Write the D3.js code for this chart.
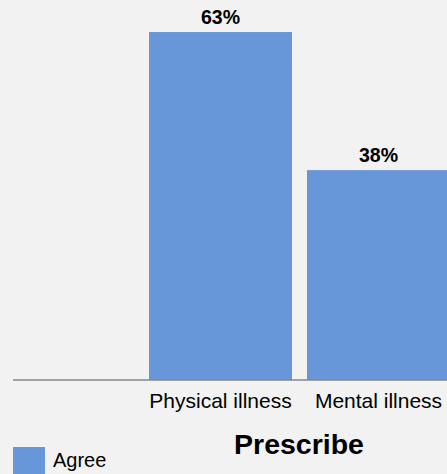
<!DOCTYPE html>
<html>
<head>
<meta charset="utf-8">
<script src="https://cdn.jsdelivr.net/npm/d3@7"></script>
<style>
  html, body { margin: 0; padding: 0; background: #f2f2f2; overflow: hidden; }
  svg { display: block; font-family: Arial, "Liberation Sans", sans-serif; }
</style>
</head>
<body>
<svg id="chart" width="447" height="474"></svg>
<script>
// Share of respondents who agree, by illness type
const categories = ["Physical illness", "Mental illness"];
const agreeValues = [63, 38];
const seriesName = "Agree";
const chartTitle = "Prescribe";

const W = 447, H = 474;
const baseline = 380;
const barColor = "#6897d9";

const svg = d3.select("#chart");

svg.append("rect").attr("width", W).attr("height", H).attr("fill", "#f2f2f2");

const x = d3.scaleBand()
  .domain(categories)
  .range([141.5, 457.5])
  .paddingInner(15 / 158)
  .paddingOuter(7.5 / 158);

const y = d3.scaleLinear()
  .domain([0, 68.8])
  .range([baseline, 0]);

const data = categories.map((c, i) => ({ cat: c, val: agreeValues[i] }));

// bars
svg.append("g").selectAll("rect")
  .data(data)
  .join("rect")
  .attr("x", d => x(d.cat))
  .attr("y", d => y(d.val))
  .attr("width", x.bandwidth())
  .attr("height", d => baseline - y(d.val))
  .attr("fill", barColor);

// value labels
svg.append("g").selectAll("text")
  .data(data)
  .join("text")
  .attr("x", d => x(d.cat) + x.bandwidth() / 2)
  .attr("y", d => y(d.val) - 8)
  .attr("text-anchor", "middle")
  .attr("font-weight", "bold")
  .attr("font-size", 19.5)
  .attr("fill", "#000")
  .text(d => d.val + "%");

// category axis
const axis = svg.append("g")
  .attr("transform", `translate(0,${baseline})`)
  .call(d3.axisBottom(x).tickSize(0).tickPadding(8));
axis.select(".domain").remove();
axis.append("line")
  .attr("x1", 13).attr("x2", W)
  .attr("y1", 0).attr("y2", 0)
  .attr("stroke", "#868686")
  .attr("stroke-width", 1.5);
axis.selectAll(".tick text")
  .attr("font-family", "Arial, 'Liberation Sans', sans-serif")
  .attr("font-size", 21)
  .attr("fill", "#000")
  .attr("dy", null)
  .attr("y", 27.5);

// title
svg.append("text")
  .attr("x", 299)
  .attr("y", 454)
  .attr("text-anchor", "middle")
  .attr("font-weight", "bold")
  .attr("font-size", 28.5)
  .attr("fill", "#000")
  .text(chartTitle);

// legend
const legend = svg.append("g").attr("transform", "translate(13,447)");
legend.append("rect")
  .attr("width", 32).attr("height", 32)
  .attr("fill", barColor);
legend.append("text")
  .attr("x", 40)
  .attr("y", 19.7)
  .attr("font-size", 20)
  .attr("fill", "#000")
  .text(seriesName);
</script>
</body>
</html>
